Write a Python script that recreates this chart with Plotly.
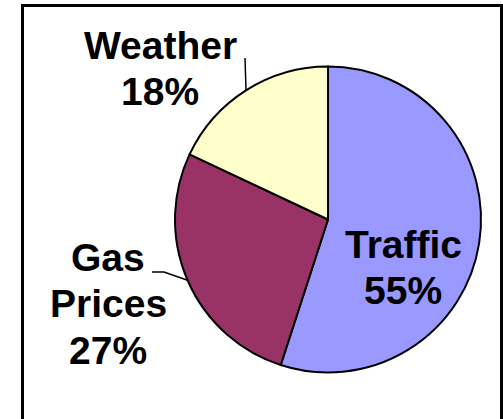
import math
import plotly.graph_objects as go

# Survey shares
categories = ["Traffic", "Gas Prices", "Weather"]
shares = [55, 27, 18]
label_lines = [["Traffic", "55%"], ["Gas", "Prices", "27%"], ["Weather", "18%"]]
colors = ["#9999FF", "#993366", "#FFFFCC"]

W, H = 503, 419
# pie geometry in pixels (centre and radius)
CX, CY, R = 328.0, 219.5, 153.0


def px(x):
    return x / W


def py(y):
    return 1 - y / H


fig = go.Figure(
    go.Pie(
        labels=categories,
        values=shares,
        sort=False,
        direction="clockwise",
        rotation=0,
        textinfo="none",
        hoverinfo="label+percent",
        marker=dict(colors=colors, line=dict(color="black", width=2)),
        domain=dict(x=[px(CX - R), px(CX + R)], y=[py(CY + R), py(CY - R)]),
        showlegend=False,
    )
)

# angle (clockwise from 12 o'clock) of each slice's middle
total = sum(shares)
mid_angles = []
acc = 0
for v in shares:
    mid_angles.append(360 * (acc + v / 2) / total)
    acc += v


def edge_point(angle_deg):
    a = math.radians(angle_deg)
    return CX + R * math.sin(a), CY - R * math.cos(a)


font = dict(family="Liberation Sans, Arial, sans-serif", size=39, color="black", weight=700)

# label anchor: centre x and the y of the first line; lines are 46 px apart
label_pos = {
    "Traffic": (403, 244),
    "Gas Prices": (108, 257),
    "Weather": (160, 45),
}
LINE_GAP = 46.5

annotations = []
for cat, lines in zip(categories, label_lines):
    x, y0 = label_pos[cat]
    for i, line in enumerate(lines):
        annotations.append(
            dict(
                x=px(x), y=py(y0 + i * LINE_GAP), xref="paper", yref="paper",
                text=line, showarrow=False, font=font,
                xanchor="center", yanchor="middle", align="center",
            )
        )

shapes = []
# leader line for Weather
wx, wy = edge_point(mid_angles[2])
shapes.append(dict(type="path", xref="paper", yref="paper",
                   path=f"M {px(245)} {py(58)} L {px(wx)} {py(wy)}",
                   line=dict(color="black", width=1.5)))
# leader line for Gas Prices
gx, gy = edge_point(mid_angles[1])
shapes.append(dict(type="path", xref="paper", yref="paper",
                   path=f"M {px(152)} {py(272)} L {px(164)} {py(272)} L {px(gx)} {py(gy)}",
                   line=dict(color="black", width=1.5)))
# chart frame
shapes.append(dict(type="rect", xref="paper", yref="paper",
                   x0=px(22.5), x1=px(501.5), y0=-0.1, y1=py(5.5),
                   line=dict(color="black", width=3)))

fig.update_layout(
    width=W, height=H,
    margin=dict(l=0, r=0, t=0, b=0),
    paper_bgcolor="white",
    plot_bgcolor="white",
    annotations=annotations,
    shapes=shapes,
)

fig.write_html("out.html")
